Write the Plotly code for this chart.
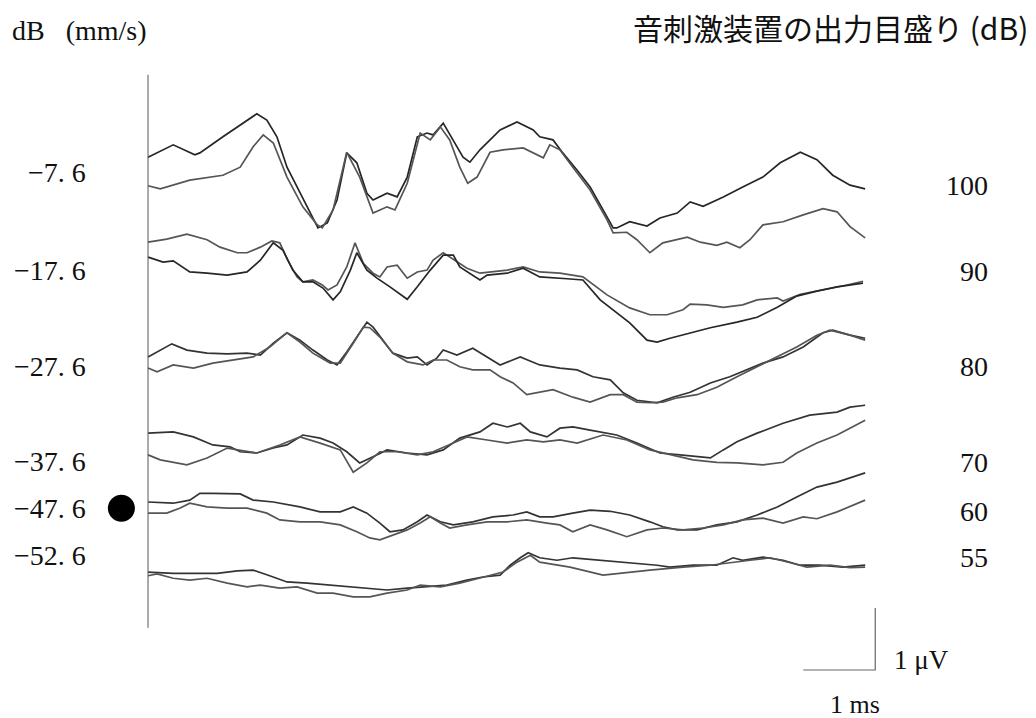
import plotly.graph_objects as go

# Evoked responses: time (ms) and amplitude (µV, stacked) for each stimulus level,
# two recordings per level.
t_100a = [0, 0.35, 0.65, 0.72, 1.04, 1.28, 1.51, 1.65, 1.79, 1.93, 2.11, 2.25, 2.36, 2.49, 2.625, 2.76, 2.90, 3.04, 3.125, 3.32, 3.46, 3.60, 3.74, 3.875, 3.96, 4.10, 4.24, 4.375, 4.47, 4.61, 4.89, 5.125, 5.35, 5.44, 5.625, 5.76, 5.96, 6.14, 6.32, 6.46, 6.51, 6.69, 6.93, 7.11, 7.35, 7.53, 7.71, 7.99, 8.26, 8.54, 8.78, 9.06, 9.29, 9.51, 9.75, 9.96]
v_100a = [8.27, 8.47, 8.31, 8.34, 8.60, 8.79, 8.97, 8.87, 8.60, 8.11, 7.69, 7.37, 7.13, 7.21, 7.58, 8.34, 8.18, 7.69, 7.58, 7.69, 7.63, 7.95, 8.60, 8.66, 8.63, 8.82, 8.55, 8.27, 8.19, 8.39, 8.71, 8.84, 8.71, 8.60, 8.55, 8.34, 8.06, 7.79, 7.42, 7.13, 7.13, 7.23, 7.16, 7.29, 7.37, 7.55, 7.48, 7.63, 7.79, 7.95, 8.18, 8.35, 8.23, 7.98, 7.82, 7.76]
t_100b = [0, 0.17, 0.58, 1.04, 1.28, 1.46, 1.60, 1.74, 1.93, 2.15, 2.35, 2.42, 2.57, 2.76, 2.94, 3.125, 3.32, 3.43, 3.60, 3.78, 3.92, 4.06, 4.19, 4.33, 4.44, 4.57, 4.75, 4.93, 5.21, 5.49, 5.58, 5.72, 5.90, 6.14, 6.375, 6.46, 6.65, 6.79, 6.97, 7.15, 7.49, 7.67, 7.90, 8.04, 8.22, 8.36, 8.54, 8.82, 9.10, 9.375, 9.57, 9.75, 9.96]
v_100b = [7.81, 7.76, 7.90, 7.98, 8.11, 8.44, 8.63, 8.50, 7.95, 7.47, 7.18, 7.13, 7.42, 8.35, 7.95, 7.37, 7.47, 7.42, 7.85, 8.66, 8.55, 8.76, 8.55, 8.11, 7.85, 7.95, 8.35, 8.39, 8.42, 8.26, 8.47, 8.39, 8.11, 7.74, 7.26, 7.05, 7.06, 6.94, 6.73, 6.89, 6.98, 6.90, 6.85, 6.90, 6.81, 6.94, 7.18, 7.23, 7.34, 7.44, 7.39, 7.15, 6.97]

t_90a = [0, 0.26, 0.54, 0.82, 1.0, 1.24, 1.375, 1.56, 1.72, 1.83, 1.94, 2.07, 2.15, 2.29, 2.42, 2.5, 2.625, 2.76, 2.875, 2.99, 3.125, 3.22, 3.32, 3.46, 3.60, 3.74, 3.875, 3.96, 4.10, 4.19, 4.43, 4.61, 4.99, 5.21, 5.44, 5.72, 6.04, 6.375, 6.69, 6.97, 7.21, 7.43, 7.53, 7.76, 7.99, 8.26, 8.46, 8.74, 8.82, 9.06, 9.375, 9.71, 9.93]
v_90a = [6.90, 6.95, 7.03, 6.94, 6.82, 6.73, 6.73, 6.82, 6.92, 6.89, 6.61, 6.34, 6.26, 6.29, 6.21, 6.13, 6.21, 6.50, 6.89, 6.56, 6.40, 6.34, 6.50, 6.53, 6.32, 6.42, 6.45, 6.61, 6.73, 6.66, 6.48, 6.40, 6.45, 6.50, 6.42, 6.40, 6.34, 6.05, 5.84, 5.73, 5.73, 5.81, 5.90, 5.89, 5.85, 5.89, 5.97, 6.00, 5.95, 6.06, 6.13, 6.21, 6.27]
t_90b = [0, 0.21, 0.35, 0.58, 0.82, 1.10, 1.375, 1.56, 1.74, 1.875, 2.01, 2.15, 2.29, 2.43, 2.57, 2.67, 2.81, 2.90, 3.04, 3.18, 3.36, 3.60, 3.74, 3.92, 4.10, 4.24, 4.33, 4.61, 4.71, 4.99, 5.21, 5.44, 5.82, 6.04, 6.28, 6.51, 6.69, 6.93, 7.07, 7.25, 7.53, 7.81, 8.18, 8.46, 8.74, 9.01, 9.29, 9.57, 9.93]
v_90b = [6.66, 6.58, 6.60, 6.42, 6.40, 6.37, 6.42, 6.61, 6.89, 6.77, 6.45, 6.26, 6.26, 6.16, 5.97, 6.10, 6.45, 6.73, 6.45, 6.32, 6.18, 5.98, 6.18, 6.45, 6.69, 6.69, 6.50, 6.29, 6.37, 6.40, 6.48, 6.34, 6.31, 6.29, 5.97, 5.76, 5.60, 5.32, 5.29, 5.35, 5.44, 5.52, 5.61, 5.69, 5.85, 6.03, 6.11, 6.18, 6.24]

t_80a = [0, 0.17, 0.33, 0.54, 0.82, 1.10, 1.375, 1.56, 1.74, 1.93, 2.11, 2.29, 2.49, 2.625, 2.76, 2.90, 3.04, 3.125, 3.26, 3.40, 3.60, 3.74, 3.875, 4.01, 4.10, 4.29, 4.51, 4.71, 4.89, 5.17, 5.44, 5.72, 5.96, 6.18, 6.42, 6.60, 6.79, 7.07, 7.29, 7.53, 7.81, 8.08, 8.36, 8.54, 8.82, 9.10, 9.375, 9.51, 9.75, 9.96]
v_80a = [5.05, 5.16, 5.26, 5.16, 5.11, 5.10, 5.11, 5.08, 5.27, 5.44, 5.32, 5.16, 5.00, 4.92, 5.13, 5.37, 5.61, 5.53, 5.32, 5.11, 5.03, 5.05, 4.92, 5.03, 5.16, 5.08, 5.19, 5.05, 4.92, 5.05, 4.92, 4.87, 4.84, 4.73, 4.68, 4.47, 4.35, 4.31, 4.40, 4.48, 4.63, 4.73, 4.87, 4.95, 5.05, 5.21, 5.44, 5.48, 5.40, 5.35]
t_80b = [0, 0.125, 0.35, 0.63, 0.90, 1.18, 1.46, 1.69, 1.93, 2.11, 2.29, 2.53, 2.67, 2.85, 2.99, 3.08, 3.22, 3.40, 3.60, 3.82, 3.96, 4.15, 4.33, 4.51, 4.75, 4.89, 5.07, 5.26, 5.44, 5.625, 5.90, 6.14, 6.42, 6.60, 6.79, 6.97, 7.15, 7.35, 7.625, 7.90, 8.18, 8.46, 8.74, 9.01, 9.29, 9.47, 9.75, 9.96]
v_80b = [4.87, 4.81, 4.92, 4.87, 4.95, 5.00, 5.05, 5.21, 5.44, 5.29, 5.11, 4.95, 4.95, 5.27, 5.53, 5.52, 5.37, 5.11, 4.97, 4.92, 5.00, 5.00, 4.89, 4.84, 4.84, 4.73, 4.63, 4.44, 4.48, 4.52, 4.40, 4.32, 4.44, 4.44, 4.32, 4.31, 4.32, 4.39, 4.44, 4.56, 4.73, 4.89, 5.05, 5.21, 5.40, 5.48, 5.40, 5.32]

t_70a = [0, 0.35, 0.63, 0.90, 1.14, 1.28, 1.51, 1.74, 1.93, 2.15, 2.39, 2.57, 2.76, 2.94, 3.125, 3.32, 3.60, 3.875, 4.10, 4.33, 4.61, 4.79, 4.99, 5.17, 5.31, 5.54, 5.72, 5.90, 6.14, 6.51, 6.79, 7.11, 7.39, 7.81, 7.99, 8.18, 8.46, 8.82, 9.19, 9.57, 9.75, 9.96]
v_70a = [3.82, 3.84, 3.76, 3.63, 3.60, 3.52, 3.50, 3.58, 3.63, 3.79, 3.74, 3.66, 3.52, 3.34, 3.44, 3.55, 3.50, 3.47, 3.55, 3.74, 3.84, 3.98, 3.92, 3.98, 3.84, 3.76, 3.90, 3.92, 3.87, 3.79, 3.66, 3.50, 3.47, 3.42, 3.55, 3.68, 3.82, 3.98, 4.11, 4.16, 4.24, 4.27]
t_70b = [0, 0.17, 0.54, 0.82, 1.10, 1.28, 1.51, 1.83, 2.11, 2.39, 2.67, 2.85, 3.04, 3.22, 3.46, 3.74, 3.96, 4.24, 4.43, 4.71, 4.99, 5.26, 5.49, 5.72, 5.96, 6.32, 6.65, 6.97, 7.29, 7.57, 7.90, 8.18, 8.54, 8.82, 9.01, 9.29, 9.57, 9.79, 9.96]
v_70b = [3.47, 3.39, 3.31, 3.42, 3.58, 3.55, 3.50, 3.63, 3.76, 3.66, 3.55, 3.19, 3.34, 3.52, 3.52, 3.47, 3.52, 3.66, 3.76, 3.71, 3.66, 3.71, 3.68, 3.71, 3.66, 3.79, 3.71, 3.55, 3.47, 3.39, 3.35, 3.34, 3.31, 3.35, 3.50, 3.66, 3.79, 3.92, 4.03]

t_60a = [0, 0.35, 0.58, 0.72, 0.90, 1.28, 1.46, 1.74, 2.11, 2.39, 2.67, 2.85, 3.04, 3.22, 3.36, 3.54, 3.74, 3.875, 4.06, 4.24, 4.51, 4.79, 5.07, 5.26, 5.44, 5.625, 5.90, 6.14, 6.42, 6.69, 6.97, 7.15, 7.35, 7.625, 7.90, 8.18, 8.46, 8.74, 9.01, 9.29, 9.57, 9.96]
v_60a = [2.71, 2.69, 2.74, 2.85, 2.85, 2.84, 2.74, 2.71, 2.63, 2.55, 2.55, 2.63, 2.53, 2.37, 2.23, 2.26, 2.39, 2.50, 2.39, 2.34, 2.39, 2.47, 2.50, 2.55, 2.47, 2.47, 2.53, 2.58, 2.56, 2.50, 2.39, 2.31, 2.26, 2.26, 2.34, 2.39, 2.50, 2.63, 2.79, 2.95, 3.03, 3.18]
t_60b = [0, 0.26, 0.44, 0.58, 0.82, 1.10, 1.375, 1.65, 1.83, 2.11, 2.39, 2.67, 2.90, 3.08, 3.22, 3.40, 3.60, 3.78, 3.92, 4.06, 4.19, 4.43, 4.71, 4.99, 5.26, 5.54, 5.72, 5.90, 6.14, 6.375, 6.65, 6.93, 7.15, 7.43, 7.71, 7.99, 8.26, 8.54, 8.82, 9.10, 9.29, 9.57, 9.96]
v_60b = [2.53, 2.53, 2.61, 2.69, 2.63, 2.61, 2.61, 2.53, 2.42, 2.39, 2.39, 2.34, 2.23, 2.13, 2.10, 2.18, 2.26, 2.37, 2.47, 2.37, 2.29, 2.34, 2.39, 2.39, 2.42, 2.37, 2.34, 2.23, 2.34, 2.26, 2.15, 2.26, 2.29, 2.26, 2.29, 2.34, 2.42, 2.45, 2.37, 2.47, 2.44, 2.55, 2.74]

t_55a = [0, 0.35, 0.72, 0.96, 1.24, 1.46, 1.69, 1.93, 2.21, 2.49, 2.76, 3.04, 3.32, 3.60, 3.82, 4.15, 4.43, 4.65, 4.89, 5.03, 5.17, 5.28, 5.44, 5.68, 5.90, 6.28, 6.65, 7.07, 7.25, 7.57, 7.90, 8.125, 8.26, 8.54, 8.82, 9.06, 9.33, 9.65, 9.96]
v_55a = [1.58, 1.56, 1.56, 1.56, 1.60, 1.61, 1.52, 1.42, 1.40, 1.37, 1.34, 1.32, 1.29, 1.32, 1.34, 1.37, 1.45, 1.50, 1.53, 1.69, 1.81, 1.89, 1.81, 1.77, 1.81, 1.77, 1.74, 1.69, 1.66, 1.69, 1.69, 1.81, 1.77, 1.82, 1.77, 1.69, 1.69, 1.66, 1.69]
t_55b = [0, 0.125, 0.35, 0.58, 0.82, 1.10, 1.375, 1.56, 1.83, 2.07, 2.35, 2.57, 2.85, 3.08, 3.32, 3.60, 3.78, 4.06, 4.33, 4.65, 4.93, 5.125, 5.31, 5.44, 5.68, 5.86, 6.32, 6.69, 6.97, 7.43, 7.81, 8.36, 8.64, 8.92, 9.15, 9.47, 9.75, 9.96]
v_55b = [1.52, 1.55, 1.48, 1.45, 1.48, 1.40, 1.34, 1.37, 1.32, 1.34, 1.24, 1.24, 1.18, 1.18, 1.24, 1.29, 1.37, 1.34, 1.40, 1.50, 1.58, 1.74, 1.85, 1.74, 1.69, 1.66, 1.53, 1.58, 1.61, 1.66, 1.69, 1.77, 1.81, 1.73, 1.66, 1.69, 1.65, 1.66]

# Row labels: vibration velocity (left) and stimulator output setting (right)
velocity_db = ["−7. 6", "−17. 6", "−27. 6", "−37. 6", "−47. 6", "−52. 6"]
stim_levels = ["100", "90", "80", "70", "60", "55"]
left_label_y = [8.03, 6.45, 4.90, 3.37, 2.61, 1.85]
right_label_y = [7.82, 6.42, 4.89, 3.34, 2.55, 1.82]

# Calibration bar: 1 ms by 1 µV
bar_ms = 1.0
bar_uv = 1.0
bar_x0 = 9.10

# Threshold marker beside the 60 dB row
marker_x = -0.37
marker_y = 2.61

traces = [
    (t_100a, v_100a, "#262626"), (t_100b, v_100b, "#555555"),
    (t_90a, v_90a, "#555555"), (t_90b, v_90b, "#262626"),
    (t_80a, v_80a, "#333333"), (t_80b, v_80b, "#555555"),
    (t_70a, v_70a, "#333333"), (t_70b, v_70b, "#555555"),
    (t_60a, v_60a, "#333333"), (t_60b, v_60b, "#555555"),
    (t_55a, v_55a, "#333333"), (t_55b, v_55b, "#555555"),
]

fig = go.Figure()
for t, v, c in traces:
    fig.add_trace(go.Scatter(x=t, y=v, mode="lines",
                             line=dict(color=c, width=1.7),
                             hoverinfo="skip", showlegend=False))

# calibration bar
fig.add_trace(go.Scatter(
    x=[bar_x0, bar_x0 + bar_ms, bar_x0 + bar_ms],
    y=[0, 0, bar_uv],
    mode="lines", line=dict(color="#666666", width=1.2),
    hoverinfo="skip", showlegend=False))

fig.add_trace(go.Scatter(x=[marker_x], y=[marker_y], mode="markers",
                         marker=dict(color="black", size=27),
                         hoverinfo="skip", showlegend=False))

# vertical reference line at stimulus onset
fig.add_shape(type="line", x0=0, x1=0, y0=0.68, y1=9.60,
              line=dict(color="#555555", width=1))

serif = "Liberation Serif, DejaVu Serif, serif"
label_font = dict(family=serif, size=28, color="#111")
annotations = []
for txt, y in zip(velocity_db, left_label_y):
    annotations.append(dict(x=-0.83, y=y, text=txt, xanchor="right", yanchor="middle",
                            showarrow=False, font=label_font))
for txt, y in zip(stim_levels, right_label_y):
    annotations.append(dict(x=11.69, y=y, text=txt, xanchor="right", yanchor="middle",
                            showarrow=False, font=label_font))

annotations += [
    dict(x=-1.92, y=10.32, text="dB\u00a0\u00a0\u00a0(mm/s)", xanchor="left", yanchor="middle",
         showarrow=False, font=dict(family=serif, size=28, color="#111")),
    dict(x=12.25, y=10.37, text="音刺激装置の出力目盛り (dB)", xanchor="right", yanchor="middle",
         showarrow=False, font=dict(family="Noto Sans CJK JP", size=30, color="#111")),
    dict(x=10.33, y=0.16, text="1 μV", xanchor="left", yanchor="middle",
         showarrow=False, font=dict(family=serif, size=27, color="#111")),
    dict(x=9.82, y=-0.56, text="1 ms", xanchor="center", yanchor="middle",
         showarrow=False, font=dict(family=serif, size=26, color="#111")),
]

fig.update_layout(
    width=1036, height=718,
    margin=dict(l=0, r=0, t=0, b=0),
    paper_bgcolor="white", plot_bgcolor="white",
    xaxis=dict(range=[-2.056, 12.333], visible=False, fixedrange=True),
    yaxis=dict(range=[-0.774, 10.806], visible=False, fixedrange=True),
    annotations=annotations,
    showlegend=False,
)

fig.write_html("out.html", config={"displayModeBar": False})
